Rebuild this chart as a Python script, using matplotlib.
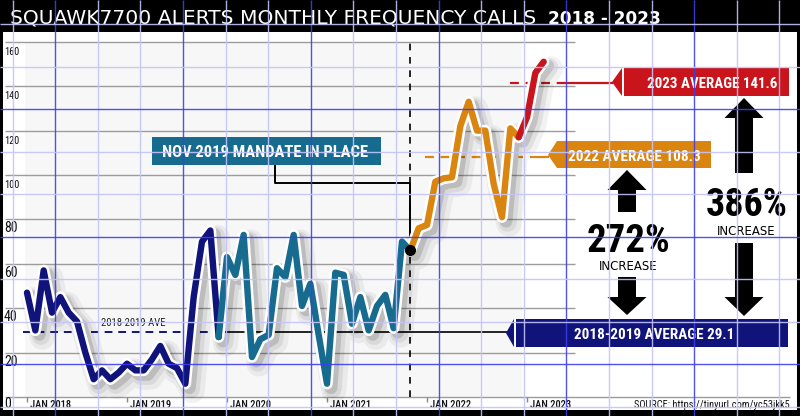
import numpy as np
import matplotlib
matplotlib.use('Agg')
import matplotlib.pyplot as plt
from matplotlib.patches import Rectangle, Polygon
import matplotlib.patheffects as pe
from matplotlib import font_manager as fm
import matplotlib.transforms as mtransforms

# ---------------- data ----------------
months = np.arange(63)  # Jan 2018 .. Mar 2023
values = [47, 30, 57, 38, 45, 38, 34, 20, 8, 12, 8, 11,          # 2018
          15, 12, 12, 17, 23, 15, 13, 6, 45, 70, 75, 27,         # 2019
          63, 55, 73, 18, 26, 28, 58, 54, 73, 41, 51, 28,        # 2020
          6, 56, 55, 33, 45, 30, 41, 46, 31, 70, 66, 76,         # 2021
          77.5, 97, 98.5, 99, 122, 133, 120, 120, 96, 81, 121, 117,  # 2022
          126, 146, 151]                                         # 2023
y_ticks = [0, 20, 40, 60, 80, 100, 120, 140, 160]
x_tick_months = [0, 12, 24, 36, 48, 60]
x_tick_labels = ['JAN 2018', 'JAN 2019', 'JAN 2020', 'JAN 2021', 'JAN 2022', 'JAN 2023']
avg_1819 = 29.1
avg_2022 = 108.3
avg_2023 = 141.6
mandate_month = 46
seg_bounds = [(0, 23), (23, 46), (46, 59), (59, 62)]

NAVY = '#10137a'
TEAL = '#176b8e'
ORANGE = '#da850f'
RED = '#c9141c'

# ---------------- fonts ----------------
COND = {'condensed', 'semi-condensed', 'extra-condensed', 'ultra-condensed'}
entries = fm.fontManager.ttflist
named = [f.name for f in entries if ('Narrow' in f.name or 'Condensed' in f.name)]
stretched = {f.name for f in entries if str(f.stretch) in COND}
NARROW = None
for pref in ['Liberation Sans Narrow', 'Roboto Condensed', 'Open Sans Condensed', 'Noto Sans Condensed']:
    if pref in named:
        NARROW = dict(family=pref)
        break
if NARROW is None and named:
    NARROW = dict(family=sorted(set(named))[0])
if NARROW is None:
    for pref in ['Noto Sans', 'Open Sans', 'Roboto', 'DejaVu Sans', 'Lato', 'Inter']:
        if pref in stretched:
            NARROW = dict(family=pref, stretch='condensed')
            break
if NARROW is None:
    NARROW = dict(family='Liberation Sans')

# ---------------- figure ----------------
fig = plt.figure(figsize=(8, 4.16), dpi=100)
renderer = fig.canvas.get_renderer()

X0PX, DXPX = 27.0, 100.0 / 12
Y0PX, DYPX = 397.0, 2.22
def px2m(px): return (px - X0PX) / DXPX
def py2v(py): return (Y0PX - py) / DYPX

ax = fig.add_axes([0, 0, 1, 1])
ax.set_xlim(px2m(0), px2m(800))
ax.set_ylim(py2v(416), py2v(0))
ax.axis('off')

ov = fig.add_axes([0, 0, 1, 1])
ov.set_xlim(0, 800)
ov.set_ylim(416, 0)
ov.axis('off')
ov.patch.set_alpha(0)
ov.set_zorder(2)


def fit(axx, x, y, s, wt, ht, ha='center', transform=None, **kw):
    kw2 = dict(fontsize=10, ha=ha, va='baseline')
    if transform is not None:
        kw2['transform'] = transform
    t = axx.text(x, y, s, **kw2, **kw)
    bb = t.get_window_extent(renderer)
    fs = ht
    if wt is not None:
        fs = min(fs, 10 * wt / bb.width)
    t.set_fontsize(fs)
    return t

# background panel
ax.add_patch(Rectangle((px2m(25), 0), px2m(522) - px2m(25), 160,
                       facecolor='#f7f7f7', edgecolor='none', zorder=0))

# gray gridlines
ax.hlines(y_ticks[1:], px2m(5), px2m(575), color='#9c9c9c', lw=1, zorder=0.5)
ax.hlines(0, px2m(5), px2m(790), color='#9c9c9c', lw=1, zorder=0.5)

# tick marks + labels
ax.vlines(x_tick_months, py2v(397), py2v(402), color='#888888', lw=1)
xoff = mtransforms.offset_copy(ax.transData, fig=fig, x=3, y=0, units='dots')
for m, lab in zip(x_tick_months, x_tick_labels):
    fit(ax, m, py2v(408.5), lab, 41, 8.5, ha='left', transform=xoff, color='#111111',
        weight='medium', **NARROW)

for v in y_ticks:
    off = -13 if v > 0 else -11.5
    tr = mtransforms.offset_copy(ax.transData, fig=fig, x=0, y=off, units='dots')
    fit(ax, px2m(4), v, str(v), 15, 10, ha='left', transform=tr, color='#111111', **NARROW)

# average lines
ax.hlines(avg_1819, px2m(23), px2m(213), color=NAVY, lw=1.4, linestyles=(0, (4, 3)), zorder=1)
ax.hlines(avg_1819, px2m(213), px2m(507), color='black', lw=1.2, zorder=1)
ax.hlines(avg_2022, px2m(425), px2m(523), color=ORANGE, lw=1.6, linestyles=(0, (4, 3)), zorder=1)
ax.hlines(avg_2022, px2m(530), px2m(549), color=ORANGE, lw=1.6, zorder=1)
ax.hlines(avg_2023, px2m(510), px2m(563), color=RED, lw=1.6, linestyles=(0, (4, 3)), zorder=1)
ax.hlines(avg_2023, px2m(563), px2m(613), color=RED, lw=1.6, zorder=1)
fit(ax, px2m(133.5), avg_1819, '2018-2019 AVE', 64, 8.5,
    transform=mtransforms.offset_copy(ax.transData, fig=fig, x=0, y=6, units='dots'),
    color='#222222', **NARROW)

# mandate marker
mv = values[mandate_month]
ax.vlines(mandate_month, 0, py2v(42), color='black', lw=1.2, linestyles=(0, (4, 4)), zorder=1.5)
ax.plot([px2m(275), px2m(275), mandate_month, mandate_month],
        [py2v(165), py2v(183), py2v(183), mv], color='black', lw=1.4, zorder=1.6)

# data line: shadow + white outline, then coloured segments
ax.plot(months, values, color='white', lw=8.3, solid_joinstyle='round', solid_capstyle='round',
        zorder=3,
        path_effects=[pe.SimpleLineShadow(offset=(5, -5), shadow_color='black', alpha=0.05, linewidth=18),
                      pe.SimpleLineShadow(offset=(4, -4), shadow_color='black', alpha=0.07, linewidth=13),
                      pe.SimpleLineShadow(offset=(3, -3), shadow_color='black', alpha=0.13, linewidth=9),
                      pe.Normal()])
for (a, b), c in zip(seg_bounds, [NAVY, TEAL, ORANGE, RED]):
    ax.plot(months[a:b + 1], values[a:b + 1], color=c, lw=4.6, solid_joinstyle='round',
            solid_capstyle='round', zorder=4)
ax.plot([mandate_month], [mv], 'o', color='black', ms=7, zorder=5)

# ---------------- overlay decorations ----------------
# title bar
ov.add_patch(Rectangle((0, 0), 800, 32, facecolor='black', edgecolor='none', zorder=5))
fit(ov, 10, 23.5, 'SQUAWK7700 ALERTS MONTHLY FREQUENCY CALLS', 525, 15.5, ha='left',
    color='white', family='DejaVu Sans', zorder=6)
fit(ov, 548, 23.5, '2018 - 2023', 113, 15.5, ha='left', color='white',
    family='DejaVu Sans', weight='bold', zorder=6)

# mandate box
ov.add_patch(Rectangle((152, 137), 229, 28, facecolor=TEAL, edgecolor='none', zorder=5))
fit(ov, 265, 157, 'NOV 2019 MANDATE IN PLACE', 206, 12, color='white', weight='bold', zorder=6, **NARROW)

# 2023 label
ov.add_patch(Polygon([(612, 82), (622, 68), (622, 96)], closed=True, facecolor=RED, edgecolor='none', zorder=5))
ov.add_patch(Rectangle((624, 68), 165, 28, facecolor=RED, edgecolor='none', zorder=5))
fit(ov, 712.5, 88, '2023 AVERAGE 141.6', 131, 12, color='white', weight='bold', zorder=6, **NARROW)

# 2022 label
ov.add_patch(Polygon([(548, 155), (557, 141), (557, 168)], closed=True, facecolor=ORANGE, edgecolor='none', zorder=5))
ov.add_patch(Rectangle((557, 141), 154, 27, facecolor=ORANGE, edgecolor='none', zorder=5))
fit(ov, 634, 161, '2022 AVERAGE 108.3', 132, 12, color='white', weight='bold', zorder=6, **NARROW)

# 2018-2019 label
ov.add_patch(Polygon([(506, 333), (514, 319), (514, 347)], closed=True, facecolor=NAVY, edgecolor='none', zorder=5))
ov.add_patch(Rectangle((516, 319), 272, 28, facecolor=NAVY, edgecolor='none', zorder=5))
fit(ov, 654, 339, '2018-2019 AVERAGE 29.1', 160, 12, color='white', weight='bold', zorder=6, **NARROW)

# arrows
def up_arrow(cx, top, head_bot, shaft_bot, hw=19.5, sw=9):
    ov.add_patch(Polygon([(cx, top), (cx - hw, head_bot), (cx + hw, head_bot)], closed=True,
                         facecolor='black', edgecolor='none', zorder=5))
    ov.add_patch(Rectangle((cx - sw, head_bot - 0.5), 2 * sw, shaft_bot - head_bot + 0.5,
                           facecolor='black', edgecolor='none', zorder=5))

def down_arrow(cx, shaft_top, head_top, tip, hw=19.5, sw=9):
    ov.add_patch(Rectangle((cx - sw, shaft_top), 2 * sw, head_top - shaft_top + 0.5,
                           facecolor='black', edgecolor='none', zorder=5))
    ov.add_patch(Polygon([(cx - hw, head_top), (cx + hw, head_top), (cx, tip)], closed=True,
                         facecolor='black', edgecolor='none', zorder=5))

up_arrow(627, 170, 190, 212)
down_arrow(627, 277, 297, 315)
up_arrow(744, 98, 118, 173)
down_arrow(744, 243, 297, 316)

fit(ov, 628.5, 251.5, '272%', 84, 37, color='black', weight='bold', zorder=6, **NARROW)
fit(ov, 628.5, 270, 'INCREASE', 83, 8.5, color='black', family='DejaVu Sans', zorder=6)
fit(ov, 746.5, 216.5, '386%', 82, 39, color='black', weight='bold', zorder=6, **NARROW)
fit(ov, 746, 235, 'INCREASE', 82, 8.5, color='black', family='DejaVu Sans', zorder=6)

# source
fit(ov, 790, 408.5, 'SOURCE: https://tinyurl.com/yc53jkk5', 156, 8.5, ha='right', color='#111111',
    zorder=6, **NARROW)

# frame
ov.add_patch(Rectangle((0, 0), 3, 416, facecolor='black', edgecolor='none', zorder=7))
ov.add_patch(Rectangle((797, 0), 3, 416, facecolor='black', edgecolor='none', zorder=7))
ov.add_patch(Rectangle((0, 410), 800, 6, facecolor='black', edgecolor='none', zorder=7))

# graph-paper overlay
for k in range(19):
    x = 12.6 + 42.6 * k
    dark = (k % 3 == 1)
    ov.vlines(x, 0, 416, color='#3d3df2' if dark else '#c4c4fa', lw=1.0, alpha=0.9, zorder=20)
for k in range(10):
    y = 24.4 + 42.5 * k
    dark = (k % 3 == 2)
    ov.hlines(y, 0, 800, color='#3d3df2' if dark else '#c4c4fa', lw=1.0, alpha=0.9, zorder=20)

fig.savefig('out.png', dpi=100)
